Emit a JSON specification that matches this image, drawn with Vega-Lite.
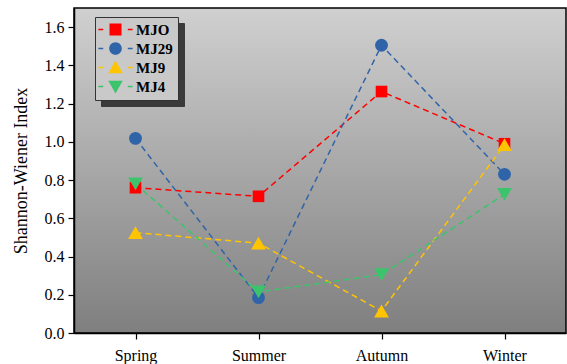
{
  "$schema": "https://vega.github.io/schema/vega-lite/v6.json",
  "width": 492,
  "height": 325,
  "autosize": {"type": "none"},
  "padding": {"left": 74, "top": 8, "right": 1, "bottom": 31},
  "background": "white",
  "config": {
    "font": "Liberation Serif",
    "view": {
      "fill": {"gradient": "linear", "x1": 0, "y1": 0, "x2": 0, "y2": 1,
        "stops": [{"offset": 0, "color": "#d0d0d0"}, {"offset": 1, "color": "#7f7f7f"}]},
      "stroke": "black",
      "strokeWidth": 1.5
    },
    "axis": {
      "domainColor": "black", "domainWidth": 1.5, "tickColor": "black", "tickWidth": 1.2,
      "tickSize": 6, "labelColor": "black", "titleColor": "black", "grid": false,
      "labelFont": "Liberation Serif", "titleFont": "Liberation Serif",
      "labelFontSize": 16, "titleFontSize": 18, "titleFontWeight": "normal"
    }
  },
  "data": {"values": [
    {"season": "Spring", "series": "MJO", "value": 0.76},
    {"season": "Summer", "series": "MJO", "value": 0.715},
    {"season": "Autumn", "series": "MJO", "value": 1.263},
    {"season": "Winter", "series": "MJO", "value": 0.99},
    {"season": "Spring", "series": "MJ29", "value": 1.018},
    {"season": "Summer", "series": "MJ29", "value": 0.185},
    {"season": "Autumn", "series": "MJ29", "value": 1.505},
    {"season": "Winter", "series": "MJ29", "value": 0.83},
    {"season": "Spring", "series": "MJ9", "value": 0.525},
    {"season": "Summer", "series": "MJ9", "value": 0.47},
    {"season": "Autumn", "series": "MJ9", "value": 0.115},
    {"season": "Winter", "series": "MJ9", "value": 0.985},
    {"season": "Spring", "series": "MJ4", "value": 0.78},
    {"season": "Summer", "series": "MJ4", "value": 0.215},
    {"season": "Autumn", "series": "MJ4", "value": 0.305},
    {"season": "Winter", "series": "MJ4", "value": 0.725}
  ]},
  "encoding": {
    "x": {"field": "season", "type": "ordinal", "sort": ["Spring", "Summer", "Autumn", "Winter"],
      "scale": {"type": "point", "padding": 0.5},
      "axis": {"title": null, "labelAngle": 0, "labelPadding": 8}},
    "y": {"field": "value", "type": "quantitative",
      "scale": {"domain": [0, 1.7], "nice": false, "zero": true},
      "axis": {"title": "Shannon-Wiener Index", "values": [0, 0.2, 0.4, 0.6, 0.8, 1.0, 1.2, 1.4, 1.6],
        "format": ".1f", "labelPadding": 4, "titlePadding": 14}},
    "color": {"field": "series", "type": "nominal",
      "scale": {"domain": ["MJO", "MJ29", "MJ9", "MJ4"], "range": ["#ff0000", "#3064a8", "#ffc400", "#3cc46c"]}}
  },
  "layer": [
    {
      "mark": {"type": "line", "strokeDash": [6, 4], "strokeWidth": 1.5}
    },
    {
      "transform": [{"filter": "datum.series === 'MJO'"}],
      "mark": {"type": "point", "filled": true, "opacity": 1, "strokeWidth": 0, "shape": "square", "size": 135}
    },
    {
      "transform": [{"filter": "datum.series === 'MJ29'"}],
      "mark": {"type": "point", "filled": true, "opacity": 1, "strokeWidth": 0, "shape": "circle", "size": 165}
    },
    {
      "transform": [{"filter": "datum.series === 'MJ9'"}],
      "mark": {"type": "point", "filled": true, "opacity": 1, "strokeWidth": 0, "shape": "triangle-up", "size": 220}
    },
    {
      "transform": [{"filter": "datum.series === 'MJ4'"}],
      "mark": {"type": "point", "filled": true, "opacity": 1, "strokeWidth": 0, "shape": "triangle-down", "size": 220}
    },
    {
      "transform": [{"filter": "false"}],
      "mark": {"type": "point", "filled": true, "strokeWidth": 0},
      "encoding": {
        "strokeDash": {"field": "season", "type": "nominal",
          "scale": {"domain": ["Spring", "Summer", "Autumn", "Winter"], "range": [[1, 0], [1, 0], [1, 0], [1, 0]]},
          "legend": {
            "title": null, "orient": "none", "legendX": 27, "legendY": 15, "zindex": 1,
            "fillColor": "#3a3a3a", "strokeColor": "#3a3a3a", "padding": 5,
            "symbolSize": 144, "symbolOffset": 8, "labelOffset": 50, "rowPadding": 3,
            "labelFont": "Liberation Serif", "labelFontWeight": "bold", "labelFontSize": 15, "labelColor": "#3a3a3a",
            "symbolOpacity": 0, "symbolStrokeColor": "#3a3a3a",
            "labelExpr": "''"
          }}
      }
    },
    {
      "transform": [{"filter": "false"}],
      "mark": {"type": "point", "filled": true, "strokeWidth": 0},
      "encoding": {
        "shape": {"field": "series", "type": "nominal",
          "scale": {"domain": ["MJO", "MJ29", "MJ9", "MJ4"], "range": [
            "M-1,-1H1V1H-1Z M-2.85,-0.12H-2.05V0.12H-2.85Z M2.05,-0.12H2.85V0.12H2.05Z",
            "M-1.05,0A1.05,1.05 0 1,0 1.05,0A1.05,1.05 0 1,0 -1.05,0Z M-2.85,-0.12H-2.05V0.12H-2.85Z M2.05,-0.12H2.85V0.12H2.05Z",
            "M0,-1.15L1.2,0.95H-1.2Z M-2.85,-0.12H-2.05V0.12H-2.85Z M2.05,-0.12H2.85V0.12H2.05Z",
            "M0,1.15L1.2,-0.95H-1.2Z M-2.85,-0.12H-2.05V0.12H-2.85Z M2.05,-0.12H2.85V0.12H2.05Z"]},
          "legend": {
            "title": null, "orient": "none", "legendX": 21, "legendY": 9, "zindex": 2,
            "fillColor": "#c9c9c9", "strokeColor": "#333333", "padding": 5,
            "symbolSize": 144, "symbolOffset": 8, "labelOffset": 13, "rowPadding": 3,
            "labelFont": "Liberation Serif", "labelFontWeight": "bold", "labelFontSize": 15, "labelColor": "black",
            "symbolStrokeWidth": 0, "symbolOpacity": 1
          }},
        "color": {"field": "series", "type": "nominal",
          "legend": {
            "title": null, "orient": "none", "legendX": 21, "legendY": 9, "zindex": 2,
            "fillColor": "#c9c9c9", "strokeColor": "#333333", "padding": 5,
            "symbolSize": 144, "symbolOffset": 8, "labelOffset": 13, "rowPadding": 3,
            "labelFont": "Liberation Serif", "labelFontWeight": "bold", "labelFontSize": 15, "labelColor": "black",
            "symbolStrokeWidth": 0, "symbolOpacity": 1
          }}
      }
    }
  ]
}
